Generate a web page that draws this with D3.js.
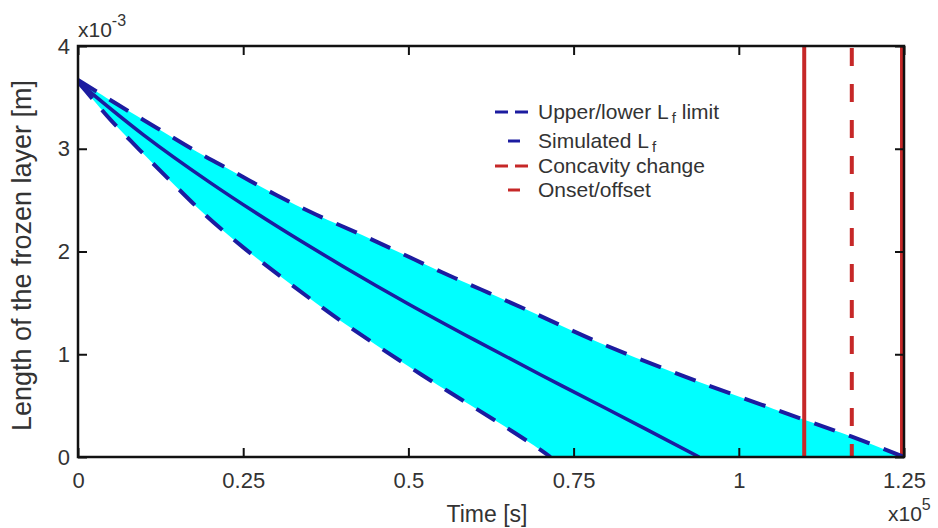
<!DOCTYPE html>
<meta charset="utf-8">
<title>Frozen layer length</title>
<style>
body { margin: 0; background: #fff; }
text { font-family: "Liberation Sans", Arial, sans-serif; fill: #333; }
</style>
<body>
<script src="https://d3js.org/d3.v7.min.js"></script>
<script>

// time in units of 1e5 s, length in units of 1e-3 m
var upperT = [0, 0.06, 0.12, 0.18, 0.24, 0.30, 0.36, 0.43, 0.49, 0.55, 0.61, 0.68, 0.79, 0.94, 1.10, 1.17, 1.25];
var upperL = [3.67, 3.43, 3.20, 2.97, 2.76, 2.55, 2.36, 2.16, 1.98, 1.80, 1.63, 1.43, 1.11, 0.73, 0.36, 0.20, 0];

var lowerT = [0, 0.02, 0.048, 0.093, 0.141, 0.192, 0.25, 0.306, 0.36, 0.41, 0.52, 0.58, 0.64, 0.70, 0.715];
var lowerL = [3.65, 3.50, 3.29, 2.99, 2.68, 2.36, 2.04, 1.76, 1.50, 1.27, 0.80, 0.56, 0.32, 0.07, 0];

var simT = [0, 0.1, 0.2, 0.3, 0.4, 0.5, 0.6, 0.7, 0.8, 0.94];
var simL = [3.65, 3.13, 2.67, 2.25, 1.86, 1.49, 1.14, 0.80, 0.47, 0];

var onsetT = [1.099, 1.247];
var concavityT = [1.171];

var xTicks = [0, 0.25, 0.5, 0.75, 1, 1.25];
var xTickLabels = ["0", "0.25", "0.5", "0.75", "1", "1.25"];
var yTicks = [0, 1, 2, 3, 4];

var W = 938, H = 528;
var margin = {left: 78, top: 46, right: 34, bottom: 71};

var svg = d3.select("body").append("svg")
    .attr("width", W)
    .attr("height", H);

var x = d3.scaleLinear().domain([0, 1.25]).range([margin.left, W - margin.right]);
var y = d3.scaleLinear().domain([0, 4]).range([H - margin.bottom, margin.top]);

svg.append("clipPath").attr("id", "plot")
  .append("rect")
    .attr("x", x(0)).attr("y", y(4))
    .attr("width", x(1.25) - x(0)).attr("height", y(0) - y(4));

var blue = "#1c1ca0", red = "#c62828", cyan = "#00ffff";

function pts(ts, ls) { return ts.map(function(t, i) { return [t, ls[i]]; }); }

var line = d3.line()
    .x(function(d) { return x(d[0]); })
    .y(function(d) { return y(d[1]); })
    .curve(d3.curveCatmullRom.alpha(0.5));

var upper = pts(upperT, upperL),
    lower = pts(lowerT, lowerL),
    sim = pts(simT, simL);

var g = svg.append("g").attr("clip-path", "url(#plot)");

// band between the limits
g.append("path")
    .attr("d", line(upper) + line(lower.slice().reverse()).replace("M", "L") + "Z")
    .attr("fill", cyan);

g.selectAll(".onset")
  .data(onsetT)
  .enter().append("line")
    .attr("x1", x).attr("x2", x)
    .attr("y1", y(0)).attr("y2", y(4))
    .attr("stroke", red).attr("stroke-width", 4);

g.selectAll(".conc")
  .data(concavityT)
  .enter().append("line")
    .attr("x1", x).attr("x2", x)
    .attr("y1", y(4) + 2).attr("y2", y(0))
    .attr("stroke", red).attr("stroke-width", 4)
    .attr("stroke-dasharray", "18,18");

g.selectAll(".lim")
  .data([upper, lower])
  .enter().append("path")
    .attr("d", line)
    .attr("fill", "none")
    .attr("stroke", blue).attr("stroke-width", 4)
    .attr("stroke-dasharray", "22,15");

g.append("path")
    .attr("d", line(sim))
    .attr("fill", "none")
    .attr("stroke", blue).attr("stroke-width", 3.5);

// axes, ticks pointing inward
function styleAxis(sel) {
  sel.select(".domain").remove();
  sel.selectAll(".tick line").attr("stroke", "#111").attr("stroke-width", 2);
  sel.selectAll("text").attr("font-size", 22).attr("fill", "#333")
    .style("font-family", '"Liberation Sans", Arial, sans-serif');
}

svg.append("g")
    .attr("transform", "translate(0," + y(0) + ")")
    .call(d3.axisBottom(x).tickValues(xTicks).tickFormat(function(d, i) { return xTickLabels[i]; })
      .tickSizeInner(-9).tickSizeOuter(0).tickPadding(15))
    .call(styleAxis);

svg.append("g")
    .attr("transform", "translate(0," + y(4) + ")")
    .call(d3.axisTop(x).tickValues(xTicks).tickFormat("").tickSizeInner(-9).tickSizeOuter(0))
    .call(styleAxis);

svg.append("g")
    .attr("transform", "translate(" + x(0) + ",0)")
    .call(d3.axisLeft(y).tickValues(yTicks).tickFormat(d3.format("d"))
      .tickSizeInner(-9).tickSizeOuter(0).tickPadding(8))
    .call(styleAxis);

svg.append("g")
    .attr("transform", "translate(" + x(1.25) + ",0)")
    .call(d3.axisRight(y).tickValues(yTicks).tickFormat("").tickSizeInner(-9).tickSizeOuter(0))
    .call(styleAxis);

svg.append("rect")
    .attr("x", x(0)).attr("y", y(4))
    .attr("width", x(1.25) - x(0)).attr("height", y(0) - y(4))
    .attr("fill", "none").attr("stroke", "#111").attr("stroke-width", 2.5);

// exponent labels
var e1 = svg.append("text").attr("x", x(0)).attr("y", 37).attr("font-size", 21);
e1.append("tspan").text("x10");
e1.append("tspan").attr("dy", -11).attr("font-size", 16).text("-3");

var e2 = svg.append("text").attr("x", 888).attr("y", 521).attr("font-size", 21);
e2.append("tspan").text("x10");
e2.append("tspan").attr("dy", -11).attr("font-size", 16).text("5");

// axis titles
svg.append("text")
    .attr("x", 487).attr("y", 522)
    .attr("text-anchor", "middle").attr("font-size", 23)
    .text("Time [s]");

svg.append("text")
    .attr("transform", "translate(31," + (y(2) + 4) + ") rotate(-90)")
    .attr("text-anchor", "middle").attr("font-size", 27)
    .text("Length of the frozen layer [m]");

// legend
var legend = [
  {label: "Upper/lower  L", sub: "f", rest: " limit", color: blue, dash: true, y: 112},
  {label: "Simulated  L", sub: "f", rest: "", color: blue, dash: false, y: 141},
  {label: "Concavity change", color: red, dash: true, y: 166},
  {label: "Onset/offset", color: red, dash: false, y: 190}
];

var lg = svg.append("g");
legend.forEach(function(d) {
  if (d.dash) {
    lg.append("line").attr("x1", 495).attr("x2", 528).attr("y1", d.y).attr("y2", d.y)
      .attr("stroke", d.color).attr("stroke-width", 3).attr("stroke-dasharray", "13,7");
  } else {
    lg.append("line").attr("x1", 508).attr("x2", 520).attr("y1", d.y).attr("y2", d.y)
      .attr("stroke", d.color).attr("stroke-width", 3);
  }
  var t = lg.append("text").attr("x", 538).attr("y", d.y + 7).attr("font-size", 21);
  t.append("tspan").text(d.label);
  if (d.sub) {
    t.append("tspan").attr("dx", 3).attr("dy", 4).attr("font-size", 15).text(d.sub);
    t.append("tspan").attr("dy", -4).text(d.rest);
  }
});

</script>
</body>
</html>
